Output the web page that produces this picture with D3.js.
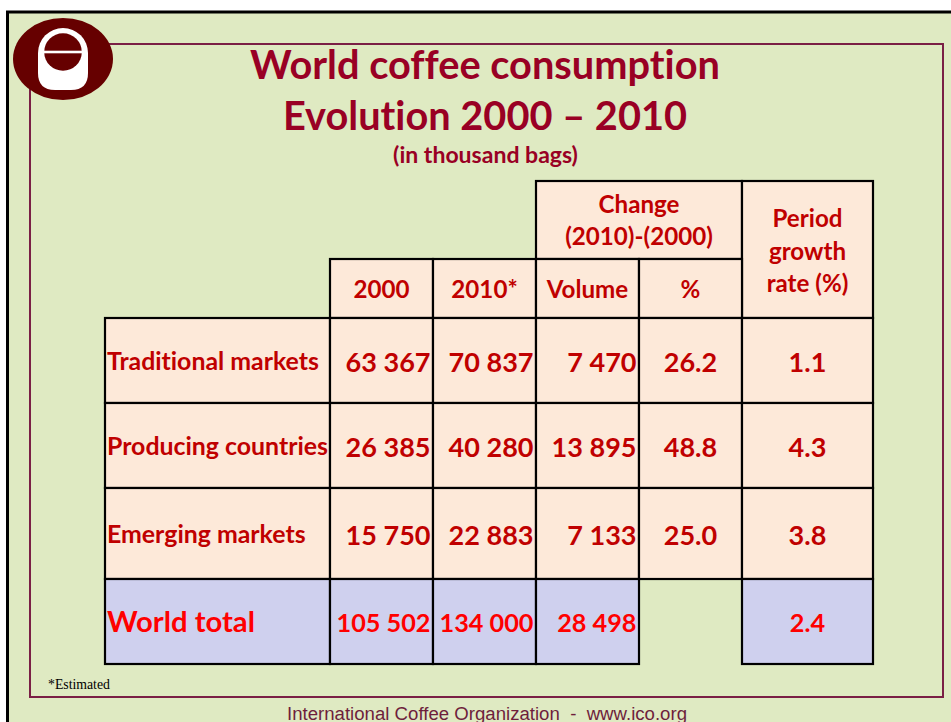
<!DOCTYPE html>
<html>
<head>
<meta charset="utf-8">
<script src="https://cdn.jsdelivr.net/npm/d3@7"></script>
<style>
  body { margin: 0; background: #fff; }
  svg { display: block; }
  text { font-variant-ligatures: none; font-feature-settings: "liga" 0, "clig" 0; }
</style>
</head>
<body>
<div id="chart"></div>
<script>
// data (thousand bags)
var rowLabels = ["Traditional markets", "Producing countries", "Emerging markets"];
var cons2000 = [63367, 26385, 15750];
var cons2010 = [70837, 40280, 22883];
var changeVol = [7470, 13895, 7133];
var changePct = [26.2, 48.8, 25.0];
var growthRate = [1.1, 4.3, 3.8];

var totalLabel = "World total";
var totalValues = [105502, 134000, 28498];
var totalGrowth = 2.4;

var colHeaders = ["2000", "2010*", "Volume", "%"];
var changeHeader = ["Change", "(2010)-(2000)"];
var growthHeader = ["Period", "growth", "rate (%)"];

var titleLines = ["World coffee consumption", "Evolution 2000 \u2013 2010"];
var subtitle = "(in thousand bags)";
var footnote = "*Estimated";
var footer = "International Coffee Organization  -  www.ico.org";

var w = 951, h = 722;
var sans = "Lato, 'Noto Sans', sans-serif";

var svg = d3.select("#chart").append("svg")
    .attr("width", w)
    .attr("height", h);

// measure a string and return the font size that gives the wanted width
function fitSize(str, family, weight, target) {
    var t = svg.append("text")
        .attr("font-family", family)
        .attr("font-weight", weight)
        .attr("font-size", 100)
        .style("white-space", "pre")
        .text(str);
    var len = t.node().getComputedTextLength();
    t.remove();
    return 100 * target / len;
}

//slide background + frames
svg.append("rect")
    .attr("x", 7.5).attr("y", 12)
    .attr("width", w + 20).attr("height", h + 20)
    .attr("fill", "#dfeac2")
    .attr("stroke", "#000")
    .attr("stroke-width", 3);

svg.append("rect")
    .attr("x", 30).attr("y", 44)
    .attr("width", 913).attr("height", 653)
    .attr("fill", "none")
    .attr("stroke", "#7a1f45")
    .attr("stroke-width", 2);

// logo
var logo = svg.append("g").attr("transform", "translate(63,59)");
logo.append("ellipse").attr("rx", 50).attr("ry", 41).attr("fill", "#660000");
var bucket = d3.path();
bucket.moveTo(-25, -6);
bucket.arc(0, -6, 25, Math.PI, 0);
bucket.lineTo(25, 14);
bucket.quadraticCurveTo(25, 31, 8, 31);
bucket.lineTo(-8, 31);
bucket.quadraticCurveTo(-25, 31, -25, 14);
bucket.closePath();
logo.append("path").attr("d", bucket.toString()).attr("fill", "#fff");
logo.append("circle").attr("cy", -7).attr("r", 18.8).attr("fill", "#660000");
logo.append("rect").attr("x", -20).attr("y", -8.3).attr("width", 40).attr("height", 2.6).attr("fill", "#fff");

// titles
var titleSize = fitSize(titleLines[0], sans, "bold", 470);
svg.selectAll("text.title")
    .data(titleLines)
    .enter().append("text")
    .attr("class", "title")
    .attr("x", 485)
    .attr("y", function (d, i) { return 79 + i * 51; })
    .attr("text-anchor", "middle")
    .attr("font-family", sans)
    .attr("font-weight", "bold")
    .attr("font-size", titleSize)
    .attr("fill", "#990024")
    .text(function (d) { return d; });

svg.append("text")
    .attr("x", 485.5).attr("y", 163)
    .attr("text-anchor", "middle")
    .attr("font-family", sans)
    .attr("font-weight", "bold")
    .attr("font-size", fitSize(subtitle, sans, "bold", 185))
    .attr("fill", "#990024")
    .text(subtitle);

// table layout
var x = d3.scaleOrdinal()
    .domain(["label", "y2000", "y2010", "vol", "pct", "growth", "end"])
    .range([105, 330, 433, 536, 639, 742, 873]);
var y = d3.scaleOrdinal()
    .domain(["h1", "h2", "r0", "r1", "r2", "total", "end"])
    .range([181, 259, 318, 403, 488, 579, 664]);
var cols = x.domain();
var next = function (k, dom) { return dom[dom.indexOf(k) + 1]; };

var fmt = d3.formatLocale({ decimal: ".", thousands: " ", grouping: [3], currency: ["", ""] }).format(",d");
var f1 = d3.format(".1f");

var peach = "#fde9d9", blue = "#cfd0ee", red = "#c00000", bright = "#ff0000";

var headSize = fitSize("Change", sans, "bold", 81);
var numSize = fitSize("63 367", sans, "bold", 85);
var labelSize = fitSize(rowLabels[0], sans, "bold", 212);
var totLabelSize = fitSize(totalLabel, sans, "bold", 148);
var totNumSize = fitSize("105 502", sans, "bold", 94);

// cells: c0/c1 columns, r0/r1 rows
var cells = [];
cells.push({ c0: "vol", c1: "growth", r0: "h1", r1: "h2", fill: peach,
    lines: changeHeader, size: headSize, color: red, anchor: "middle", base: 213, step: 32 });
cells.push({ c0: "growth", c1: "end", r0: "h1", r1: "r0", fill: peach,
    lines: growthHeader, size: headSize, color: red, anchor: "middle", base: 227, step: 32.5 });
colHeaders.forEach(function (d, i) {
    var c = cols[i + 1];
    cells.push({ c0: c, c1: next(c, cols), r0: "h2", r1: "r0", fill: peach,
        lines: [d], size: headSize, color: red, anchor: "middle", base: 298 });
});

rowLabels.forEach(function (lab, i) {
    var r = "r" + i;
    var vals = [lab, fmt(cons2000[i]), fmt(cons2010[i]), fmt(changeVol[i]), f1(changePct[i]), f1(growthRate[i])];
    vals.forEach(function (v, j) {
        var c = cols[j];
        cells.push({ c0: c, c1: next(c, cols), r0: r, r1: next(r, y.domain()), fill: peach,
            lines: [v], size: j === 0 ? labelSize : numSize, color: red,
            anchor: j === 0 ? "start" : (j < 4 ? "end" : "middle"),
            off: j === 0 ? 9.5 : 11.5 });
    });
});

var totVals = [totalLabel].concat(totalValues.map(fmt));
totVals.forEach(function (v, j) {
    var c = cols[j];
    cells.push({ c0: c, c1: next(c, cols), r0: "total", r1: "end", fill: blue,
        lines: [v], size: j === 0 ? totLabelSize : totNumSize, color: bright,
        anchor: j === 0 ? "start" : "end", off: j === 0 ? 10.5 : 10 });
});
cells.push({ c0: "growth", c1: "end", r0: "total", r1: "end", fill: blue,
    lines: [f1(totalGrowth)], size: totNumSize, color: bright, anchor: "middle", off: 10 });

var cell = svg.selectAll("g.cell")
    .data(cells)
    .enter().append("g")
    .attr("class", "cell");

cell.append("rect")
    .attr("x", function (d) { return x(d.c0); })
    .attr("y", function (d) { return y(d.r0); })
    .attr("width", function (d) { return x(d.c1) - x(d.c0); })
    .attr("height", function (d) { return y(d.r1) - y(d.r0); })
    .attr("fill", function (d) { return d.fill; })
    .attr("stroke", "#000")
    .attr("stroke-width", 2.2);

cell.each(function (d) {
    var g = d3.select(this);
    var tx = d.anchor === "start" ? x(d.c0) + 2 : (d.anchor === "end" ? x(d.c1) - 2.5 : (x(d.c0) + x(d.c1)) / 2);
    var by = d.base !== undefined ? d.base : (y(d.r0) + y(d.r1)) / 2 + d.off;
    d.lines.forEach(function (s, k) {
        g.append("text")
            .attr("x", tx)
            .attr("y", by + k * (d.step || 0))
            .attr("text-anchor", d.anchor)
            .attr("font-family", sans)
            .attr("font-weight", "bold")
            .attr("font-size", d.size)
            .attr("fill", d.color)
            .text(s);
    });
});

// footnote and footer
svg.append("text")
    .attr("x", 48).attr("y", 689)
    .attr("font-family", "'Liberation Serif', 'DejaVu Serif', serif")
    .attr("font-size", fitSize(footnote, "'Liberation Serif', serif", "normal", 62))
    .attr("fill", "#000")
    .text(footnote);

svg.append("text")
    .attr("x", 487).attr("y", 720)
    .attr("text-anchor", "middle")
    .attr("font-family", "'Liberation Sans', Arial, sans-serif")
    .attr("font-size", fitSize(footer, "'Liberation Sans', Arial, sans-serif", "normal", 400))
    .attr("fill", "#6e1e3c")
    .style("white-space", "pre")
    .text(footer);
</script>
</body>
</html>
